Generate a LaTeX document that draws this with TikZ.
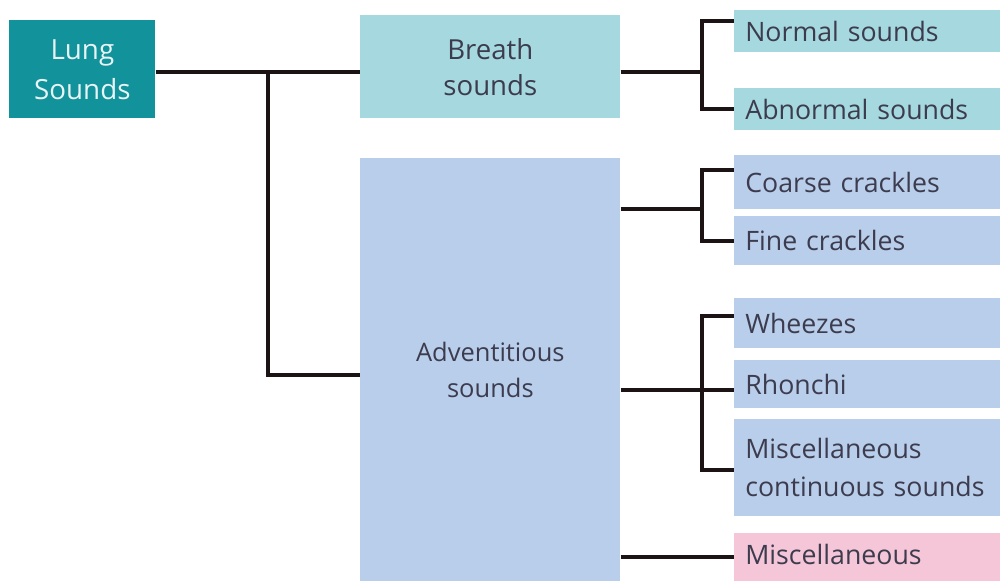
\documentclass[tikz,border=0pt]{standalone}
\usepackage{fontspec}
\setmainfont{Open Sans}
\definecolor{teal1}{HTML}{12929A}
\definecolor{breathc}{HTML}{A5D8DF}
\definecolor{advc}{HTML}{B9CEEA}
\definecolor{pinkc}{HTML}{F5C6D8}
\definecolor{txt}{HTML}{3C3C4E}
\definecolor{linec}{HTML}{1C1414}
\tikzset{
  box/.style={anchor=north west, inner sep=0pt, align=center, text=txt,
    font=\fontsize{15.7}{20.5}\selectfont},
  leaf/.style={anchor=north west, inner ysep=0pt, inner xsep=0.22cm, align=left, text=txt,
    minimum width=5.32cm, text width=4.88cm, font=\fontsize{15.2}{21.6}\selectfont},
  conn/.style={draw=linec, line width=2.4pt}
}
\begin{document}
\begin{tikzpicture}[x=0.02cm,y=-0.02cm]
\useasboundingbox (0,0) rectangle (1000,581);
\node[box, fill=teal1, text=white!90!teal1, minimum width=146*0.02cm, minimum height=98*0.02cm, font=\fontsize{15.8}{22.7}\selectfont] (lung) at (9,20) {Lung\\Sounds};
\node[box, fill=breathc, minimum width=260*0.02cm, minimum height=103*0.02cm] (breath) at (360,15) {Breath\\sounds};
\node[box, fill=advc, minimum width=260*0.02cm, minimum height=423*0.02cm, font=\fontsize{14.5}{20.5}\selectfont] (adv) at (360,158) {Adventitious\\sounds};
\node[leaf, fill=breathc, minimum height=42*0.02cm] (normal) at (734,10) {Normal sounds};
\node[leaf, fill=breathc, minimum height=42*0.02cm] (abnormal) at (734,88) {Abnormal sounds};
\node[leaf, fill=advc, minimum height=54*0.02cm] (coarse) at (734,155) {Coarse crackles};
\node[leaf, fill=advc, minimum height=49*0.02cm] (fine) at (734,216) {Fine crackles};
\node[leaf, fill=advc, minimum height=50*0.02cm] (wheeze) at (734,298) {Wheezes};
\node[leaf, fill=advc, minimum height=48*0.02cm] (rhonchi) at (734,360) {Rhonchi};
\node[leaf, fill=advc, minimum height=97*0.02cm] (miscc) at (734,419) {Miscellaneous\\continuous sounds};
\node[leaf, fill=pinkc, minimum height=48*0.02cm, text depth=0.12cm] (misc) at (734,533) {Miscellaneous};
\coordinate (j0) at (268,72);
\coordinate (b1) at (702,72);
\coordinate (c1) at (702,209);
\coordinate (c2) at (702,390);
% connectors
\draw[conn] (lung.east |- j0) -- (breath.west |- j0);
\draw[conn] (j0) |- ([yshift=-0.1cm]adv.west);
\draw[conn] (breath.east |- b1) -- (b1);
\draw[conn] ([yshift=0.2cm]normal.west) -| (b1) |- (abnormal.west);
\draw[conn] (adv.east |- c1) -- (c1);
\draw[conn] ([yshift=0.24cm]coarse.west) -| (c1) |- (fine.west);
\draw[conn] (adv.east |- c2) -- (c2 -| rhonchi.west);
\draw[conn] ([yshift=0.14cm]wheeze.west) -| (c2) |- ([yshift=-0.04cm]miscc.west);
\draw[conn] (adv.east |- misc.west) -- (misc.west);
\end{tikzpicture}
\end{document}
